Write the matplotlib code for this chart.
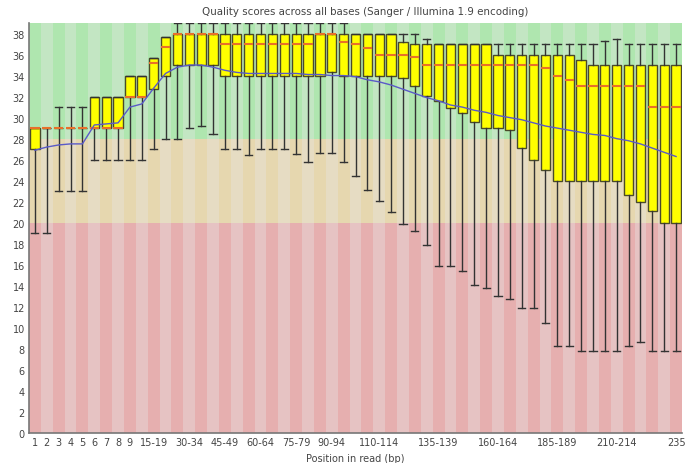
import numpy as np
import matplotlib
matplotlib.use("Agg")
import matplotlib.pyplot as plt

# per-position quality stats (Phred)
low = [19, 19, 23, 23, 23, 26, 26, 26, 26, 26, 27, 28, 28, 29, 29.2, 28.4, 27, 27, 26.4, 27,
       27, 27, 26.5, 25.8, 26.6, 26.6, 25.8, 24.4, 23.1, 22.1, 21, 19.9, 19.2, 17.9, 15.9, 15.9, 15.4, 14.1, 13.8, 13,
       12.7, 11.9, 11.9, 10.5, 8.3, 8.3, 7.8, 7.8, 7.8, 7.8, 8.3, 8.7, 7.8, 7.8, 7.8]
q1 = [27, 29, 29, 29, 29, 29, 29, 29, 32, 32, 32.7, 34, 35, 35, 35, 35, 34, 34, 34, 34,
      34, 34, 34, 34, 34, 34.3, 34, 34, 34, 34, 34, 33.8, 33, 32.1, 31.6, 30.9, 30.4, 29.6, 29, 29,
      28.8, 27.1, 26, 25, 24, 24, 24, 24, 24, 24, 22.6, 22, 21.1, 20, 20]
med = [29, 29, 29, 29, 29, 29, 29, 29, 32, 32, 35.2, 36.7, 38, 38, 38, 38, 37, 37, 37, 37,
       37, 37, 37, 37, 38, 38, 37.2, 37, 36.6, 36, 36, 36, 35.8, 35, 35, 35, 35, 35, 35, 35,
       35, 35, 35, 34.7, 34, 33.6, 33, 33, 33, 33, 33, 33, 31, 31, 31]
q3 = [29, 29, 29, 29, 29, 32, 32, 32, 34, 34, 35.7, 37.7, 38, 38, 38, 38, 38, 38, 38, 38,
      38, 38, 38, 38, 38, 38, 38, 38, 38, 38, 38, 37.2, 37, 37, 37, 37, 37, 37, 37, 36,
      36, 36, 36, 36, 36, 36, 35.5, 35, 35, 35, 35, 35, 35, 35, 35]
high = [29, 29, 31, 31, 31, 32, 32, 32, 34, 34, 35.7, 37.7, 39, 39, 39, 39, 39, 39, 39, 39,
        39, 39, 39, 39, 39, 39, 39, 38, 38, 38, 38, 38, 38, 37.5, 37, 37, 37, 37, 37, 37,
        37, 37, 37, 37, 37, 37, 37, 37, 37.3, 37.5, 37, 37, 37, 37, 37]
mean = [26.9, 27.2, 27.4, 27.5, 27.5, 29.3, 29.4, 29.5, 31.0, 31.3, 32.8, 34.2, 34.8, 35.0, 35.0, 34.8, 34.5, 34.3, 34.2, 34.2,
        34.2, 34.2, 34.2, 34.1, 34.1, 34.0, 34.0, 33.9, 33.6, 33.4, 33.1, 32.7, 32.3, 31.9, 31.6, 31.2, 31.0, 30.7, 30.5, 30.2,
        30.0, 29.8, 29.5, 29.2, 29.0, 28.8, 28.6, 28.4, 28.3, 28.0, 27.8, 27.5, 27.1, 26.7, 26.3]

positions_bp = [str(i) for i in range(1, 10)] + ["%d-%d" % (s, s + 4) for s in range(10, 235, 5)] + ["235"]
shown_labels = [1, 2, 3, 4, 5, 6, 7, 8, 9, 11, 14, 17, 20, 23, 26, 30, 35, 40, 45, 50, 55]

ymax = 39
zones = [(0, 20, '#e6afaf', '#e6c3c3'),   # bad
         (20, 28, '#e6d7af', '#e6dcc3'),  # ok
         (28, ymax, '#afe6af', '#c3e6c3')]  # good

x = np.arange(1, len(low) + 1)

fig = plt.figure(figsize=(6.94, 4.64), dpi=100)
ax = fig.add_axes([29 / 694, 30 / 464, 653 / 694, 410 / 464])

# striped background
for lo, hi, dark, light in zones:
    cols = [dark if i % 2 == 1 else light for i in x]
    ax.bar(x, hi - lo, bottom=lo, width=1.0, color=cols, linewidth=0, zorder=0)

stats = [dict(whislo=a, q1=b, med=c, q3=d, whishi=e)
         for a, b, c, d, e in zip(low, q1, med, q3, high)]
ax.bxp(stats, positions=x, widths=0.78, capwidths=0.6, patch_artist=True, showfliers=False,
       boxprops=dict(facecolor='#ffff00', edgecolor='#4a4a2a', linewidth=1.0),
       medianprops=dict(color='#e8702a', linewidth=1.5),
       whiskerprops=dict(color='#333333', linewidth=1.0),
       capprops=dict(color='#333333', linewidth=1.0), zorder=2)

ax.plot(x, mean, color='#5a5ac8', linewidth=1.0, zorder=3)

ax.set_xlim(0.5, len(x) + 0.5)
ax.set_ylim(0, ymax)
ax.set_yticks(range(0, 39, 2))
ax.set_xticks(shown_labels)
ax.set_xticklabels([positions_bp[i - 1] for i in shown_labels])
ax.tick_params(length=0, labelsize=7, colors='#444444', pad=3)
for s in ['top', 'right']:
    ax.spines[s].set_visible(False)
for s in ['left', 'bottom']:
    ax.spines[s].set_color('#777777')
    ax.spines[s].set_linewidth(1.2)

ax.set_xlabel("Position in read (bp)", fontsize=7, color='#444444', labelpad=4)
fig.text(365 / 694, 1 - 12 / 464, "Quality scores across all bases (Sanger / Illumina 1.9 encoding)",
         ha='center', va='center', fontsize=7.4, color='#444444')

fig.savefig("out.png", dpi=100, facecolor='white')
